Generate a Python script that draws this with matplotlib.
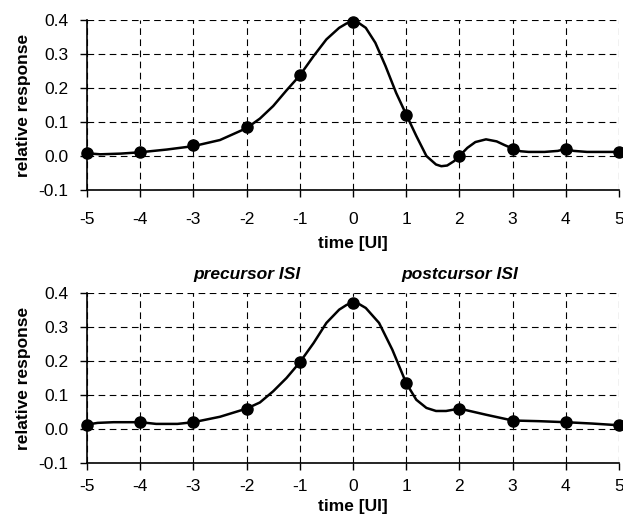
import matplotlib
matplotlib.use("Agg")
import matplotlib.pyplot as plt

plt.rcParams['font.family'] = ['Liberation Sans', 'DejaVu Sans']
plt.rcParams['axes.unicode_minus'] = False

# sampled cursor values (markers)
ui = [-5, -4, -3, -2, -1, 0, 1, 2, 3, 4, 5]
top_samples = [0.008, 0.012, 0.031, 0.084, 0.237, 0.394, 0.122, 0.0, 0.022, 0.022, 0.012]
bot_samples = [0.013, 0.02, 0.02, 0.06, 0.196, 0.371, 0.135, 0.06, 0.025, 0.02, 0.011]

# continuous pulse response
top_t = [-5, -4.75, -4.37, -4, -3.5, -3, -2.5, -2, -1.75, -1.5, -1.25, -1, -0.74, -0.5,
         -0.26, -0.12, 0, 0.12, 0.24, 0.42, 0.61, 0.81, 1, 1.19, 1.38, 1.56, 1.66, 1.77,
         1.9, 2, 2.15, 2.3, 2.5, 2.7, 2.85, 3, 3.15, 3.3, 3.6, 3.85, 4, 4.15, 4.4, 4.75, 5]
top_y = [0.008, 0.005, 0.007, 0.011, 0.019, 0.029, 0.047, 0.082, 0.11, 0.147, 0.193, 0.237, 0.294, 0.343,
         0.377, 0.39, 0.394, 0.39, 0.377, 0.333, 0.265, 0.186, 0.122, 0.059, 0.0, -0.025, -0.03, -0.028,
         -0.015, 0.0, 0.024, 0.041, 0.049, 0.043, 0.032, 0.022, 0.014, 0.012, 0.012, 0.015, 0.021, 0.015, 0.012, 0.012, 0.012]

bot_t = [-5, -4.8, -4.5, -4, -3.7, -3.3, -3, -2.5, -2, -1.75, -1.5, -1.25, -1, -0.74, -0.5,
         -0.26, -0.12, 0, 0.12, 0.24, 0.49, 0.74, 1, 1.19, 1.38, 1.56, 1.75, 2, 2.5, 3, 3.5, 4, 4.5, 5]
bot_y = [0.013, 0.018, 0.02, 0.02, 0.015, 0.015, 0.02, 0.036, 0.06, 0.078, 0.111, 0.15, 0.196, 0.253, 0.312,
         0.351, 0.365, 0.371, 0.367, 0.356, 0.312, 0.233, 0.135, 0.086, 0.062, 0.053, 0.053, 0.06, 0.042, 0.025,
         0.023, 0.02, 0.016, 0.011]

fig = plt.figure(figsize=(6.23, 5.24), dpi=100)
ax1 = fig.add_axes([87/623, 1 - 190/524, 532/623, 170/524])
ax2 = fig.add_axes([87/623, 1 - 463/524, 532/623, 170/524])

fs = 12.5
setup = [(ax1, top_t, top_y, top_samples, 11, -0.273),
         (ax2, bot_t, bot_y, bot_samples, 6.7, -0.21)]
for ax, ct, cy, sy, xpad, xlab_y in setup:
    ax.plot(ct, cy, color='black', lw=1.8, clip_on=False, zorder=3)
    ax.plot(ui, sy, 'o', color='black', ms=8, clip_on=False, zorder=4)
    ax.set_xlim(-5, 5)
    ax.set_ylim(-0.1, 0.4)
    ax.set_xticks(ui)
    ax.set_yticks([-0.1, 0.0, 0.1, 0.2, 0.3, 0.4])
    ax.set_yticklabels(['-0.1', '0.0', '0.1', '0.2', '0.3', '0.4'])
    ax.grid(True, color='black', ls=(0, (6, 4)), lw=0.8)
    ax.spines['top'].set_visible(False)
    ax.spines['right'].set_visible(False)
    ax.spines['left'].set_linewidth(1.2)
    ax.spines['bottom'].set_linewidth(1.2)
    ax.tick_params(axis='x', length=5, width=1, pad=xpad, labelsize=fs)
    ax.tick_params(axis='y', length=5, width=1, pad=8.5, labelsize=fs)
    ax.set_xlabel('time [UI]', fontweight='bold', fontsize=fs)
    ax.xaxis.set_label_coords(0.5, xlab_y)
    ax.set_ylabel('relative response', fontweight='bold', fontsize=fs)
    ax.yaxis.set_label_coords(-0.105, 0.5)

ax2.text(-2, 0.454, 'precursor ISI', ha='center', va='center', fontweight='bold',
         fontstyle='italic', fontsize=fs)
ax2.text(2, 0.454, 'postcursor ISI', ha='center', va='center', fontweight='bold',
         fontstyle='italic', fontsize=fs)

fig.savefig('out.png', dpi=100)
